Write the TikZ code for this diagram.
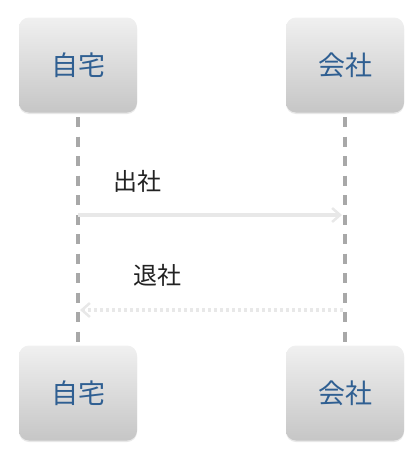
\documentclass[tikz,border=0pt]{standalone}
\usepackage{fontspec}
\newfontfamily\cjk{Noto Sans CJK JP}
\usetikzlibrary{arrows.meta,shadows}
\definecolor{boxtext}{HTML}{2F5F92}
\definecolor{boxtop}{HTML}{F0F0F0}
\definecolor{boxbot}{HTML}{C6C6C6}
\definecolor{lifegray}{HTML}{A8A8A8}
\definecolor{msggray}{HTML}{E8E8E8}
\definecolor{labeltext}{HTML}{222222}
\tikzset{
  actorbox/.style={rectangle, rounded corners=10pt, minimum width=118pt, minimum height=95pt,
    top color=boxtop, bottom color=boxbot, draw=none,
    drop shadow={opacity=0.18, shadow xshift=0pt, shadow yshift=-1.5pt},
    font=\cjk\fontsize{27}{30}\selectfont, text=boxtext, inner sep=0pt},
  lifeline/.style={draw=lifegray, line width=3.5pt, dash pattern=on 10pt off 9.5pt},
  msgline/.style={draw=msggray, line width=4pt, -{Straight Barb[length=8pt,width=14pt,line width=2.5pt]}},
  msgdotted/.style={msgline, dash pattern=on 3pt off 3pt},
  msglabel/.style={font=\cjk\fontsize{24}{28}\selectfont, text=labeltext, inner sep=0pt}
}
\begin{document}
\begin{tikzpicture}[x=1pt,y=-1pt]
\useasboundingbox (0,0) rectangle (420,458);
\node[actorbox] (hometop) at (78,65) {自宅};
\node[actorbox] (worktop) at (345,65) {会社};
\node[actorbox] (homebot) at (78,393) {自宅};
\node[actorbox] (workbot) at (345,393) {会社};
\coordinate (hl1) at (78,117);
\coordinate (hl2) at (78,345);
\coordinate (wl1) at (345,117);
\coordinate (wl2) at (345,345);
\draw[lifeline] (hl1) -- (hl2);
\draw[lifeline] (wl1) -- (wl2);
\coordinate (a1s) at (78,215);
\coordinate (a1e) at (342,215);
\coordinate (a2s) at (343,310);
\coordinate (a2e) at (80,310);
\draw[msgline] (a1s) -- (a1e);
\draw[msgdotted] (a2s) -- (a2e);
\node[msglabel, anchor=center] (l1) at (137,181) {出社};
\node[msglabel, anchor=center] (l2) at (157,275) {退社};
\end{tikzpicture}
\end{document}
